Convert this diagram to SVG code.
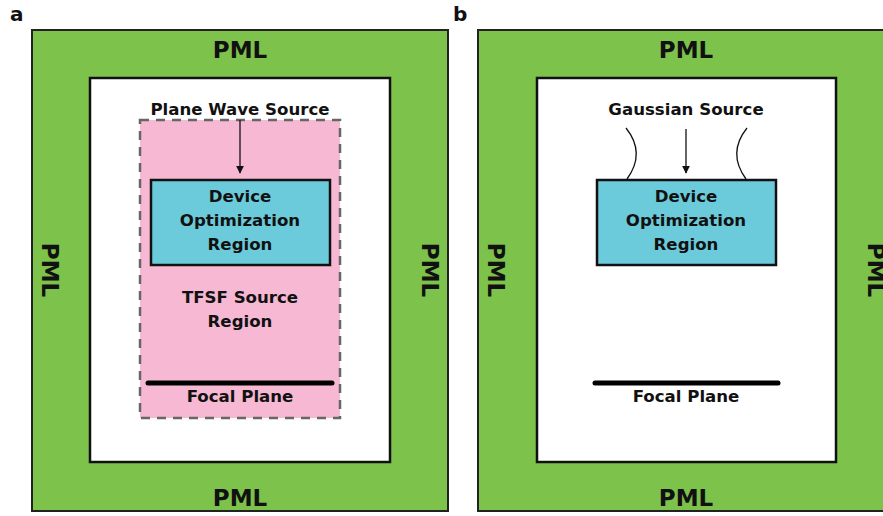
<svg xmlns="http://www.w3.org/2000/svg" width="883" height="516" viewBox="0 0 883 516">
<style>
text{font-family:"DejaVu Sans","Liberation Sans",Arial,sans-serif;font-weight:bold;fill:#111;text-anchor:middle}
.pml{font-size:23px}
.lbl{font-size:16.6px}
.panel{font-size:20px;text-anchor:start}
.outer{fill:#7dc24a;stroke:#222;stroke-width:2}
.inner{fill:#fff;stroke:#111;stroke-width:2.5}
.dev{fill:#6ccbdb;stroke:#111;stroke-width:2.5}
.focal{stroke:#000;stroke-width:5;stroke-linecap:round}
.conn{stroke:#111;stroke-width:1.3;fill:none}
</style>
<defs>
<marker id="ah" viewBox="0 0 10 10" refX="9" refY="5" markerWidth="8" markerHeight="8" markerUnits="userSpaceOnUse" orient="auto">
<path d="M0,0 L10,5 L0,10 z" fill="#111"/>
</marker>
</defs>
<text class="panel" x="10" y="21">a</text>
<text class="panel" x="453" y="21">b</text>
<g id="panelA">
<g id="pmlA"><rect class="outer" x="32" y="30" width="416" height="481"/>
<text class="pml" x="240" y="58">PML</text>
<text class="pml" x="240" y="506">PML</text>
<text class="pml" transform="translate(50,270) rotate(90)" dominant-baseline="central" y="0">PML</text>
<text class="pml" transform="translate(430,270) rotate(90)" dominant-baseline="central" y="0">PML</text>
</g>
<g id="simA"><rect class="inner" x="90" y="78" width="300" height="384"/></g>
<g id="tfsf"><rect x="140" y="120" width="200" height="298" fill="#f6b8d2" stroke="#666" stroke-width="2.5" stroke-dasharray="9,7"/>
<text class="lbl" x="240" y="303">TFSF Source</text>
<text class="lbl" x="240" y="327">Region</text></g>
<g id="planeWave"><text class="lbl" x="240" y="115">Plane Wave Source</text></g>
<g id="deviceA"><rect class="dev" x="151" y="180" width="179" height="85"/>
<text class="lbl" x="240" y="202">Device</text>
<text class="lbl" x="240" y="226">Optimization</text>
<text class="lbl" x="240" y="250">Region</text></g>
<g id="focalA"><line class="focal" x1="148" y1="383" x2="332" y2="383"/>
<text class="lbl" x="240" y="402">Focal Plane</text></g>
</g>
<g id="panelB">
<g id="pmlB"><rect class="outer" x="478" y="30" width="420" height="481"/>
<text class="pml" x="686" y="58">PML</text>
<text class="pml" x="686" y="506">PML</text>
<text class="pml" transform="translate(496,270) rotate(90)" dominant-baseline="central" y="0">PML</text>
<text class="pml" transform="translate(876,270) rotate(90)" dominant-baseline="central" y="0">PML</text>
</g>
<g id="simB"><rect class="inner" x="537" y="78" width="299" height="384"/></g>
<g id="gaussian"><text class="lbl" x="686" y="115">Gaussian Source</text></g>
<g id="deviceB"><rect class="dev" x="597" y="180" width="179" height="85"/>
<text class="lbl" x="686" y="202">Device</text>
<text class="lbl" x="686" y="226">Optimization</text>
<text class="lbl" x="686" y="250">Region</text></g>
<g id="focalB"><line class="focal" x1="595" y1="383" x2="778" y2="383"/>
<text class="lbl" x="686" y="402">Focal Plane</text></g>
</g>
<g id="connectors">
<line class="conn" x1="240" y1="120" x2="240" y2="173" marker-end="url(#ah)"/>
<line class="conn" x1="686" y1="129" x2="686" y2="173" marker-end="url(#ah)"/>
<path class="conn" d="M626,128 Q646,153 627,179"/>
<path class="conn" d="M747,128 Q727,153 746,179"/>
</g>
</svg>
